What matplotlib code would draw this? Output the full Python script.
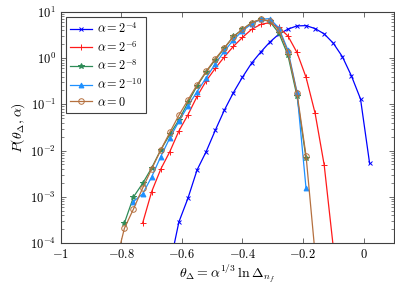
import numpy as np
import matplotlib
matplotlib.use("Agg")
import matplotlib.pyplot as plt
from matplotlib.ticker import LogLocator, NullFormatter

plt.rcParams["font.family"] = "serif"
plt.rcParams["font.serif"] = ["cmr10"]
plt.rcParams["mathtext.fontset"] = "cm"
plt.rcParams["axes.formatter.use_mathtext"] = True

# theta values (step 0.03) and log10 P
x_a4 = np.round(np.arange(-0.64, 0.021, 0.03), 2)
logp_a4 = [-4.48, -3.545, -3.03, -2.42, -2.024, -1.565, -1.128, -0.747, -0.413,
           -0.110, 0.128, 0.344, 0.517, 0.626, 0.697, 0.703, 0.639, 0.524,
           0.323, 0.032, -0.385, -0.883, -2.275]

x_a6 = np.round(np.arange(-0.73, -0.099, 0.03), 2)
logp_a6 = [-3.574, -2.890, -2.403, -2.024, -1.576, -1.225, -0.829, -0.494,
           -0.223, 0.026, 0.253, 0.448, 0.621, 0.729, 0.768, 0.665, 0.481,
           0.123, -0.413, -1.193, -2.312, -4.087]

x_a8 = np.round(np.arange(-0.79, -0.189, 0.03), 2)
logp_a8 = [-3.567, -3.004, -2.712, -2.377, -1.987, -1.652, -1.338, -0.959,
           -0.602, -0.299, -0.039, 0.214, 0.470, 0.621, 0.768, 0.838, 0.794,
           0.545, 0.069, -0.818, -2.167]

x_a10 = np.round(np.arange(-0.76, -0.189, 0.03), 2)
logp_a10 = [-3.102, -2.939, -2.571, -2.132, -1.727, -1.370, -1.035, -0.725,
            -0.429, -0.126, 0.145, 0.394, 0.589, 0.740, 0.838, 0.855, 0.654,
            0.177, -0.732, -2.816]

x_a0 = np.round(np.arange(-0.82, -0.159, 0.03), 2)
logp_a0 = [-4.476, -3.682, -3.264, -2.816, -2.398, -1.987, -1.608, -1.236,
           -0.905, -0.580, -0.288, -0.017, 0.221, 0.459, 0.621, 0.762, 0.838,
           0.805, 0.610, 0.134, -0.753, -2.110, -4.238]

series = [
    (x_a4, logp_a4, r"$\alpha = 2^{-4}$", "#0000ff", "x", 3.0, dict()),
    (x_a6, logp_a6, r"$\alpha = 2^{-6}$", "#ff1a1a", "+", 4.5, dict()),
    (x_a8, logp_a8, r"$\alpha = 2^{-8}$", "#2e8b57", "*", 4.0, dict()),
    (x_a10, logp_a10, r"$\alpha = 2^{-10}$", "#1e90ff", "^", 3.5, dict()),
    (x_a0, logp_a0, r"$\alpha = 0$", "#b5703f", "o", 4.0, dict(markerfacecolor="none")),
]

fig = plt.figure(figsize=(3.95, 2.9), dpi=100)
ax = fig.add_axes([0.154, 0.162, 0.843, 0.797])

for x, lp, lab, col, mk, ms, kw in series:
    ax.plot(x, 10 ** np.array(lp), color=col, marker=mk, markersize=ms,
            markeredgewidth=0.7, linewidth=0.9, label=lab, **kw)

ax.set_yscale("log")
ax.set_xlim(-1, 0.1)
ax.set_ylim(1e-4, 1e1)
ax.set_xticks([-1, -0.8, -0.6, -0.4, -0.2, 0])
ax.set_xticklabels([r"$-1$", r"$-0.8$", r"$-0.6$", r"$-0.4$", r"$-0.2$", r"$0$"])
ax.yaxis.set_major_locator(LogLocator(base=10, numticks=10))
ax.yaxis.set_minor_locator(LogLocator(base=10, subs=np.arange(2, 10), numticks=10))
ax.yaxis.set_minor_formatter(NullFormatter())

ax.tick_params(which="both", direction="in", top=True, right=True,
               labelsize=9, color="#555555")
ax.tick_params(which="major", length=3.5, width=0.6)
ax.tick_params(which="minor", length=2, width=0.5)
for s in ax.spines.values():
    s.set_linewidth(0.8)
    s.set_color("#404040")

ax.set_xlabel(r"$\theta_\Delta = \alpha^{1/3}\,\ln\Delta_{n_f}$", fontsize=10, labelpad=1)
ax.set_ylabel(r"$P(\theta_\Delta,\alpha)$", fontsize=10, labelpad=2)

leg = ax.legend(loc="upper left", fontsize=8.8, frameon=True, fancybox=False,
                edgecolor="#404040", framealpha=1, handlelength=1.8,
                handletextpad=0.4, borderpad=0.35, labelspacing=0.3,
                borderaxespad=0.4)
leg.get_frame().set_linewidth(0.8)

fig.savefig("out.png", dpi=100)
